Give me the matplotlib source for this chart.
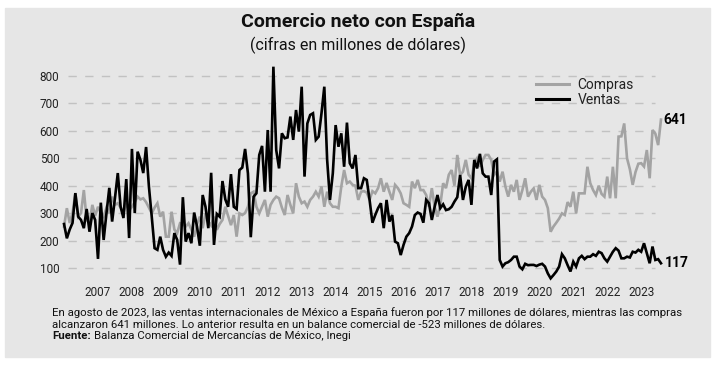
import matplotlib
matplotlib.use('Agg')
import matplotlib.pyplot as plt
from matplotlib.patches import Rectangle
from matplotlib.lines import Line2D
import numpy as np

plt.rcParams['font.family'] = ['Liberation Sans Narrow', 'Roboto', 'DejaVu Sans']

# ---- Data (monthly, Jan 2006 - Aug 2023), millions of dollars ----
ventas_2006 = [260, 208, 240, 264, 373, 287, 275, 245, 315, 232, 300, 275]
ventas_2007 = [133, 338, 202, 300, 392, 269, 355, 446, 323, 282, 424, 209]
ventas_2008 = [534, 300, 524, 494, 446, 541, 397, 287, 172, 166, 214, 166]
ventas_2009 = [141, 156, 144, 227, 202, 112, 358, 196, 227, 190, 302, 251]
ventas_2010 = [181, 366, 323, 245, 447, 184, 297, 287, 417, 350, 323, 442]
ventas_2011 = [323, 315, 457, 466, 534, 445, 212, 360, 372, 512, 545, 378]
ventas_2012 = [603, 378, 834, 530, 463, 591, 573, 576, 652, 567, 676, 597]
ventas_2013 = [761, 433, 627, 658, 664, 567, 579, 664, 761, 494, 348, 445]
ventas_2014 = [621, 542, 591, 469, 630, 482, 463, 512, 391, 391, 427, 421]
ventas_2015 = [348, 265, 293, 318, 336, 245, 348, 269, 293, 196, 190, 147]
ventas_2016 = [184, 214, 227, 251, 293, 302, 297, 265, 348, 336, 275, 323]
ventas_2017 = [366, 318, 332, 311, 314, 323, 342, 358, 439, 348, 396, 421]
ventas_2018 = [330, 494, 463, 516, 445, 433, 433, 366, 488, 496, 129, 105]
ventas_2019 = [117, 121, 129, 141, 141, 105, 95, 115, 110, 111, 111, 107]
ventas_2020 = [112, 115, 105, 80, 62, 74, 87, 105, 150, 135, 110, 87]
ventas_2021 = [123, 105, 135, 144, 132, 141, 141, 150, 144, 159, 154, 135]
ventas_2022 = [123, 141, 159, 172, 163, 135, 135, 141, 138, 159, 156, 166]
ventas_2023 = [159, 190, 154, 117, 178, 129, 132, 117]

compras_2006 = [251, 318, 264, 300, 372, 287, 300, 384, 275, 263, 330, 290]
compras_2007 = [323, 300, 287, 320, 300, 360, 330, 336, 320, 300, 336, 310]
compras_2008 = [323, 340, 360, 350, 354, 340, 320, 299, 320, 336, 287, 305]
compras_2009 = [214, 214, 305, 240, 227, 263, 260, 251, 263, 240, 214, 260]
compras_2010 = [287, 245, 299, 270, 255, 287, 239, 260, 275, 323, 290, 256]
compras_2011 = [293, 214, 299, 293, 300, 323, 372, 378, 323, 299, 323, 348]
compras_2012 = [287, 330, 348, 360, 354, 320, 293, 366, 330, 299, 409, 360]
compras_2013 = [336, 342, 323, 348, 360, 378, 360, 397, 323, 378, 336, 323]
compras_2014 = [323, 318, 397, 457, 409, 415, 403, 400, 348, 378, 380, 375]
compras_2015 = [348, 380, 372, 391, 427, 378, 410, 378, 348, 403, 391, 372]
compras_2016 = [336, 330, 323, 415, 391, 421, 384, 384, 366, 323, 391, 323]
compras_2017 = [287, 330, 409, 391, 440, 457, 400, 512, 439, 451, 494, 440]
compras_2018 = [427, 482, 500, 469, 494, 512, 512, 494, 439, 451, 415, 451]
compras_2019 = [397, 360, 403, 378, 421, 348, 384, 427, 360, 378, 390, 348]
compras_2020 = [403, 360, 348, 318, 232, 251, 265, 280, 299, 293, 340, 323]
compras_2021 = [378, 299, 372, 372, 372, 469, 409, 384, 366, 400, 370, 360]
compras_2022 = [433, 354, 469, 354, 579, 580, 627, 500, 460, 403, 450, 480]
compras_2023 = [482, 470, 530, 427, 603, 590, 548, 641]

year_ticks = list(range(2007, 2024))
y_ticks = [100, 200, 300, 400, 500, 600, 700, 800]

ventas = (ventas_2006 + ventas_2007 + ventas_2008 + ventas_2009 + ventas_2010 +
          ventas_2011 + ventas_2012 + ventas_2013 + ventas_2014 + ventas_2015 +
          ventas_2016 + ventas_2017 + ventas_2018 + ventas_2019 + ventas_2020 +
          ventas_2021 + ventas_2022 + ventas_2023)
compras = (compras_2006 + compras_2007 + compras_2008 + compras_2009 + compras_2010 +
           compras_2011 + compras_2012 + compras_2013 + compras_2014 + compras_2015 +
           compras_2016 + compras_2017 + compras_2018 + compras_2019 + compras_2020 +
           compras_2021 + compras_2022 + compras_2023)
t = 2006 + np.arange(len(ventas)) / 12.0

W, H = 716, 368
fig = plt.figure(figsize=(W / 100, H / 100), dpi=100)
fig.patch.set_facecolor('white')
fig.patches.append(Rectangle((5 / W, 1 - 357 / H), 705 / W, 349 / H,
                             transform=fig.transFigure, color='#e6e6e6', zorder=-10))

ax = fig.add_axes([62 / W, 1 - 283 / H, 606 / W, 220.7 / H])
ax.set_zorder(1)
ax.set_facecolor('none')
for s in ax.spines.values():
    s.set_visible(False)

ax.set_xlim(2005.94, 2023.79)
ax.set_ylim(45, 850)

for v in y_ticks:
    ax.axhline(v, xmin=0.01, xmax=0.978, color='#c2c2c2', lw=1.0,
               dashes=(6, 6), zorder=1)

ax.plot(t, compras, color='#a3a3a3', lw=1.9, zorder=2, solid_joinstyle='miter')
ax.plot(t, ventas, color='black', lw=1.9, zorder=3, solid_joinstyle='miter')

ax.set_yticks(y_ticks)
ax.set_yticklabels([str(v) for v in y_ticks], family=['Roboto', 'DejaVu Sans'])
ax.set_xticks(year_ticks)
ax.set_xticklabels([str(y) for y in year_ticks], family=['Roboto', 'DejaVu Sans'])
ax.tick_params(axis='both', length=0, labelsize=8.5, labelcolor='#222222')
ax.tick_params(axis='y', pad=2)
ax.tick_params(axis='x', pad=2)

ax.annotate(str(compras[-1]), xy=(t[-1], compras[-1]), xytext=(2, 0),
            textcoords='offset points', va='center', ha='left',
            fontsize=10, fontweight='bold', family=['Roboto', 'DejaVu Sans'])
ax.annotate(str(ventas[-1]), xy=(t[-1], ventas[-1]), xytext=(3, 0),
            textcoords='offset points', va='center', ha='left',
            fontsize=10, fontweight='bold', family=['Roboto', 'DejaVu Sans'])

handles = [Line2D([], [], color='#a3a3a3', lw=2.2), Line2D([], [], color='black', lw=2.2)]
leg = ax.legend(handles, ['Compras', 'Ventas'], loc='upper left',
                bbox_to_anchor=(0.782, 0.93), frameon=False, fontsize=10,
                handlelength=2.4, handletextpad=0.6, labelspacing=0.1,
                borderaxespad=0, borderpad=0)
for txt in leg.get_texts():
    txt.set_family(['Roboto', 'DejaVu Sans'])
    txt.set_color('#222222')

fig.text(0.5, 1 - 22 / H, 'Comercio neto con España', ha='center', va='center',
         fontsize=14, fontweight='bold', color='#111111')
fig.text(0.5, 1 - 45 / H, '(cifras en millones de dólares)', ha='center', va='center',
         fontsize=11.5, color='#111111')

fx = 52 / W
fs = 8.2
fig.text(fx, 1 - 313 / H,
         'En agosto de 2023, las ventas internacionales de México a España fueron por 117 millones de dólares, mientras las compras',
         ha='left', va='center', fontsize=fs, color='#111111')
fig.text(fx, 1 - 324.5 / H,
         'alcanzaron 641 millones. Lo anterior resulta en un balance comercial de -523 millones de dólares.',
         ha='left', va='center', fontsize=fs, color='#111111')
fb = fig.text(fx, 1 - 336 / H, 'Fuente:', ha='left', va='center', fontsize=fs,
              fontweight='bold', color='#111111')
r = fig.canvas.get_renderer()
bb = fb.get_window_extent(renderer=r)
fig.text(bb.x1 / W + 3 / W, 1 - 336 / H, 'Balanza Comercial de Mercancías de México, Inegi',
         ha='left', va='center', fontsize=fs, color='#111111')

fig.savefig('out.png', dpi=100, facecolor=fig.get_facecolor())
